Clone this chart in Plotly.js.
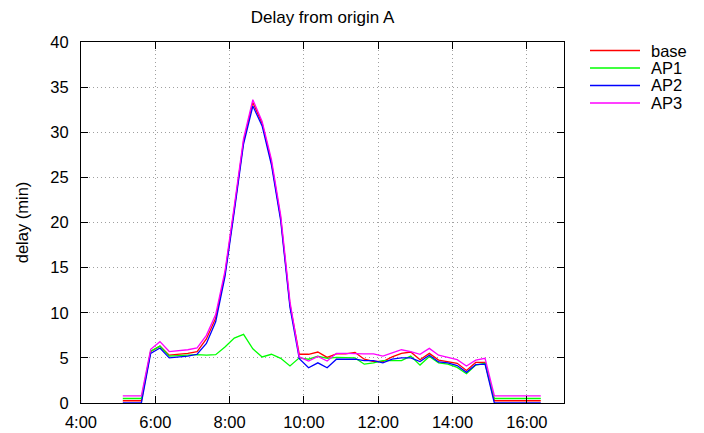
<!DOCTYPE html>
<html>
<head>
<meta charset="utf-8">
<script src="https://cdn.plot.ly/plotly-3.0.1.min.js"></script>
<style>html,body{margin:0;padding:0;background:#fff}#chart{width:704px;height:433px}</style>
</head>
<body>
<div id="chart"></div>
<script>
// Time of day (decimal hours), one point every 15 minutes (bin centres)
var hours = [5.125, 5.375, 5.625, 5.875, 6.125, 6.375, 6.625, 6.875, 7.125, 7.375,
             7.625, 7.875, 8.125, 8.375, 8.625, 8.875, 9.125, 9.375, 9.625, 9.875,
             10.125, 10.375, 10.625, 10.875, 11.125, 11.375, 11.625, 11.875, 12.125, 12.375,
             12.625, 12.875, 13.125, 13.375, 13.625, 13.875, 14.125, 14.375, 14.625, 14.875,
             15.125, 15.375, 15.625, 15.875, 16.125, 16.375];

var base = [0.25, 0.25, 0.25, 5.7, 6.3, 5.3, 5.4, 5.5, 5.7, 7.1,
            9.4, 14.3, 21.5, 29.0, 33.3, 31.0, 26.7, 20.5, 10.9, 5.4,
            5.4, 5.65, 5.05, 5.45, 5.45, 5.6, 4.85, 4.6, 4.6, 5.1,
            5.5, 5.65, 4.8, 5.5, 4.75, 4.6, 4.4, 3.6, 4.5, 4.5,
            0.25, 0.25, 0.25, 0.25, 0.25, 0.25];

var ap1 = [0.5, 0.5, 0.5, 5.75, 6.3, 5.2, 5.25, 5.3, 5.35, 5.3,
           5.35, 6.2, 7.2, 7.6, 6.0, 5.1, 5.4, 4.95, 4.1, 5.0,
           4.85, 5.2, 4.95, 5.05, 5.0, 5.0, 4.3, 4.45, 4.7, 4.7,
           4.7, 5.2, 4.2, 5.15, 4.45, 4.3, 3.95, 3.25, 4.2, 4.4,
           0.5, 0.5, 0.5, 0.5, 0.5, 0.5];

var ap2 = [0, 0, 0, 5.5, 6.1, 5.0, 5.1, 5.2, 5.4, 6.6,
           9.0, 14.0, 21.2, 28.7, 32.9, 30.7, 26.4, 20.2, 10.6, 4.9,
           3.9, 4.45, 3.9, 4.85, 4.85, 4.85, 4.7, 4.7, 4.45, 4.85,
           5.0, 5.0, 4.6, 5.3, 4.55, 4.45, 4.15, 3.4, 4.25, 4.3,
           0, 0, 0, 0, 0, 0];

var ap3 = [0.8, 0.8, 0.8, 5.95, 6.8, 5.7, 5.8, 5.9, 6.1, 7.5,
           9.8, 14.6, 21.8, 29.3, 33.6, 31.2, 27.0, 20.8, 11.2, 5.1,
           4.65, 5.15, 4.65, 5.5, 5.5, 5.45, 5.45, 5.45, 5.2, 5.55,
           5.9, 5.7, 5.4, 6.05, 5.3, 5.05, 4.8, 4.1, 4.75, 4.95,
           0.8, 0.8, 0.8, 0.8, 0.8, 0.8];

var seriesNames = ["base", "AP1", "AP2", "AP3"];
var seriesColors = ["#ff0000", "#00ff00", "#0000ff", "#ff00ff"];
var xTickVals = [4, 6, 8, 10, 12, 14, 16];
var xTickText = ["4:00", "6:00", "8:00", "10:00", "12:00", "14:00", "16:00"];

var FONT = "Liberation Sans, Arial, Helvetica, sans-serif";
var allSeries = [base, ap1, ap2, ap3];

var traces = allSeries.map(function (ys, i) {
  return {
    x: hours, y: ys, type: "scatter", mode: "lines", name: seriesNames[i],
    line: {color: seriesColors[i], width: 1.3},
    showlegend: false
  };
});

// plot area in px: left 81, right 564, top 42, bottom 403
var L = 81, R = 564, T = 42, B = 403, W = 704, H = 433;
var pw = R - L, ph = B - T;
function px2x(p) { return (p - L) / pw; }
function py2y(p) { return (B - p) / ph; }

var legendY = [50.5, 68, 85.5, 103];
var shapes = [], annotations = [];
seriesNames.forEach(function (n, i) {
  shapes.push({type: "line", xref: "paper", yref: "paper",
    x0: px2x(590), x1: px2x(640), y0: py2y(legendY[i]), y1: py2y(legendY[i]),
    line: {color: seriesColors[i], width: 1.3}});
  annotations.push({xref: "paper", yref: "paper", x: px2x(649), y: py2y(legendY[i]),
    xanchor: "left", yanchor: "middle", text: n, showarrow: false,
    font: {family: FONT, size: 16.5, color: "#000"}});
});

var axisCommon = {
  showline: true, linecolor: "#000", linewidth: 1, mirror: "allticks",
  ticks: "inside", ticklen: 7, tickwidth: 1, tickcolor: "#000",
  showgrid: true, gridcolor: "#a0a0a0", griddash: "1px,3px", gridwidth: 1,
  zeroline: false, tickfont: {family: FONT, size: 16.5, color: "#000"}
};

var layout = {
  width: W, height: H,
  margin: {l: L, r: W - R, t: T, b: H - B, pad: 0},
  paper_bgcolor: "#fff", plot_bgcolor: "#fff",
  title: {text: "Delay from origin A", font: {family: FONT, size: 17, color: "#000"},
          xref: "paper", x: 0.5, xanchor: "center", yref: "container", y: 1 - 17 / H, yanchor: "middle"},
  xaxis: Object.assign({}, axisCommon, {range: [4, 17], tickmode: "array",
    tickvals: xTickVals, ticktext: xTickText, ticklabelstandoff: 4}),
  yaxis: Object.assign({}, axisCommon, {range: [0, 40], tickmode: "linear", tick0: 0, dtick: 5,
    ticklabelstandoff: 8,
    title: {text: "delay (min)", font: {family: FONT, size: 16.5, color: "#000"}, standoff: 17}}),
  shapes: shapes, annotations: annotations,
  showlegend: false
};

Plotly.newPlot("chart", traces, layout, {displayModeBar: false, staticPlot: true});
</script>
</body>
</html>
